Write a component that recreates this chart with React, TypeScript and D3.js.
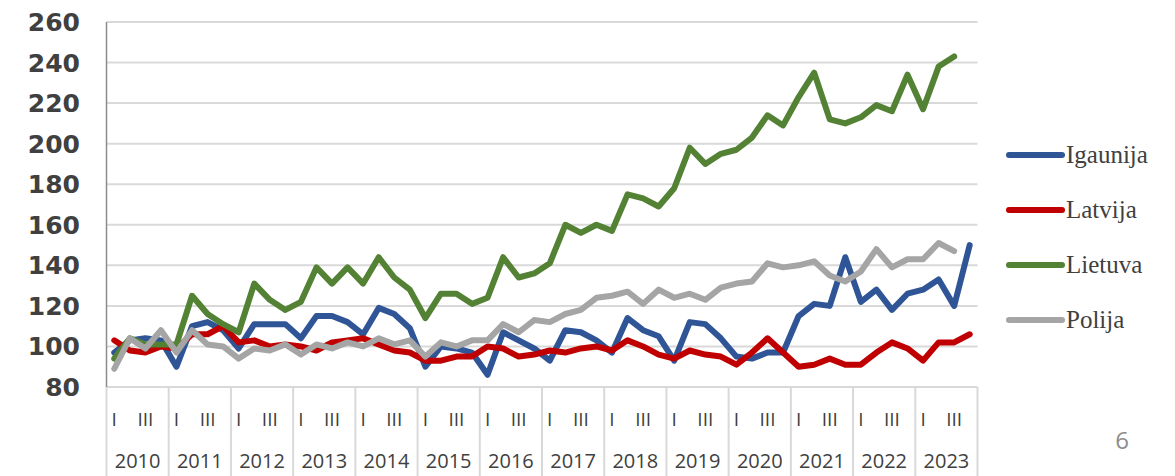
import * as d3 from "d3";

const years = ["2010", "2011", "2012", "2013", "2014", "2015", "2016", "2017", "2018", "2019", "2020", "2021", "2022", "2023"];
const quarterLabels = ["I", "", "III", ""];
const yTicks = [80, 100, 120, 140, 160, 180, 200, 220, 240, 260];

const igaunija = [97, 103, 104, 103, 90, 110, 112, 108, 99, 111, 111, 111, 104, 115, 115, 112, 106, 119, 116, 109, 90, 100, 99, 97, 86, 107, 103, 99, 93, 108, 107, 103, 97, 114, 108, 105, 93, 112, 111, 104, 95, 94, 97, 97, 115, 121, 120, 144, 122, 128, 118, 126, 128, 133, 120, 150];
const latvija = [103, 98, 97, 100, 99, 106, 106, 110, 102, 103, 100, 101, 100, 98, 102, 103, 104, 101, 98, 97, 93, 93, 95, 95, 100, 99, 95, 96, 98, 97, 99, 100, 98, 103, 100, 96, 94, 98, 96, 95, 91, 97, 104, 97, 90, 91, 94, 91, 91, 97, 102, 99, 93, 102, 102, 106];
const lietuva = [94, 104, 101, 101, 101, 125, 116, 111, 107, 131, 123, 118, 122, 139, 131, 139, 131, 144, 134, 128, 114, 126, 126, 121, 124, 144, 134, 136, 141, 160, 156, 160, 157, 175, 173, 169, 178, 198, 190, 195, 197, 203, 214, 209, 223, 235, 212, 210, 213, 219, 216, 234, 217, 238, 243, null];
const polija = [89, 104, 99, 108, 97, 108, 101, 100, 94, 99, 98, 101, 96, 101, 99, 102, 100, 104, 101, 103, 95, 102, 100, 103, 103, 111, 107, 113, 112, 116, 118, 124, 125, 127, 121, 128, 124, 126, 123, 129, 131, 132, 141, 139, 140, 142, 135, 132, 137, 148, 139, 143, 143, 151, 147, null];

const seriesNames = ["Igaunija", "Latvija", "Lietuva", "Polija"];
const seriesColors = ["#2F5597", "#C00000", "#548235", "#A5A5A5"];
const seriesValues = [igaunija, latvija, lietuva, polija];

const W = 1175;
const H = 476;
const left = 106.5;
const right = 977.5;
const top = 22;
const bottom = 387;

export default function App() {
  const quarters = d3.range(years.length * 4);
  const x = d3.scaleBand<number>().domain(quarters).range([left, right]).padding(0);
  const cx = (i: number) => (x(i) as number) + x.bandwidth() / 2;
  const y = d3.scaleLinear().domain([80, 260]).range([bottom, top]);

  const line = d3
    .line<number | null>()
    .defined((d) => d !== null)
    .x((_, i) => cx(i))
    .y((d) => y(d as number));

  const yearW = x.bandwidth() * 4;

  return (
    <svg width={W} height={H} style={{ position: "absolute", left: 0, top: 0, background: "#fff" }}>
      {/* gridlines */}
      {yTicks.map((t) => (
        <line key={t} x1={left} x2={right} y1={y(t)} y2={y(t)} stroke="#d9d9d9" strokeWidth={2} />
      ))}
      {/* category separators under the axis */}
      {d3.range(years.length + 1).map((k) => (
        <line key={k} x1={left + k * yearW} x2={left + k * yearW} y1={bottom} y2={H} stroke="#d9d9d9" strokeWidth={2} />
      ))}
      <line x1={left} x2={left} y1={top} y2={bottom} stroke="#8c8c8c" strokeWidth={1.5} />

      {/* y labels */}
      {yTicks.map((t) => (
        <text
          key={t}
          x={80}
          y={y(t)}
          dy="0.36em"
          textAnchor="end"
          fontFamily="DejaVu Sans"
          fontWeight="bold"
          fontSize={25}
          fill="#404040"
        >
          {t}
        </text>
      ))}

      {/* quarter and year labels */}
      {quarters.map((i) =>
        quarterLabels[i % 4] ? (
          <text key={"q" + i} x={cx(i)} y={426} textAnchor="middle" fontFamily="Open Sans" fontSize={19} fill="#404040">
            {quarterLabels[i % 4]}
          </text>
        ) : null
      )}
      {years.map((yr, k) => (
        <text
          key={yr}
          x={left + k * yearW + yearW / 2}
          y={468}
          textAnchor="middle"
          fontFamily="Open Sans"
          fontSize={20}
          fill="#404040"
        >
          {yr}
        </text>
      ))}

      {/* series */}
      {seriesValues.map((vals, s) => (
        <path
          key={seriesNames[s]}
          d={line(vals) || ""}
          fill="none"
          stroke={seriesColors[s]}
          strokeWidth={6}
          strokeLinejoin="round"
          strokeLinecap="round"
        />
      ))}

      {/* legend */}
      {seriesNames.map((name, s) => {
        const ly = 155 + s * 55;
        return (
          <g key={name}>
            <line x1={1009} x2={1062} y1={ly} y2={ly} stroke={seriesColors[s]} strokeWidth={6} strokeLinecap="round" />
            <text x={1066} y={ly} dy="0.33em" fontFamily="Liberation Serif" fontSize={25} fill="#404040">
              {name}
            </text>
          </g>
        );
      })}

      <text x={1122} y={449} textAnchor="middle" fontFamily="Open Sans" fontSize={24} fill="#8c8c8c">
        6
      </text>
    </svg>
  );
}
